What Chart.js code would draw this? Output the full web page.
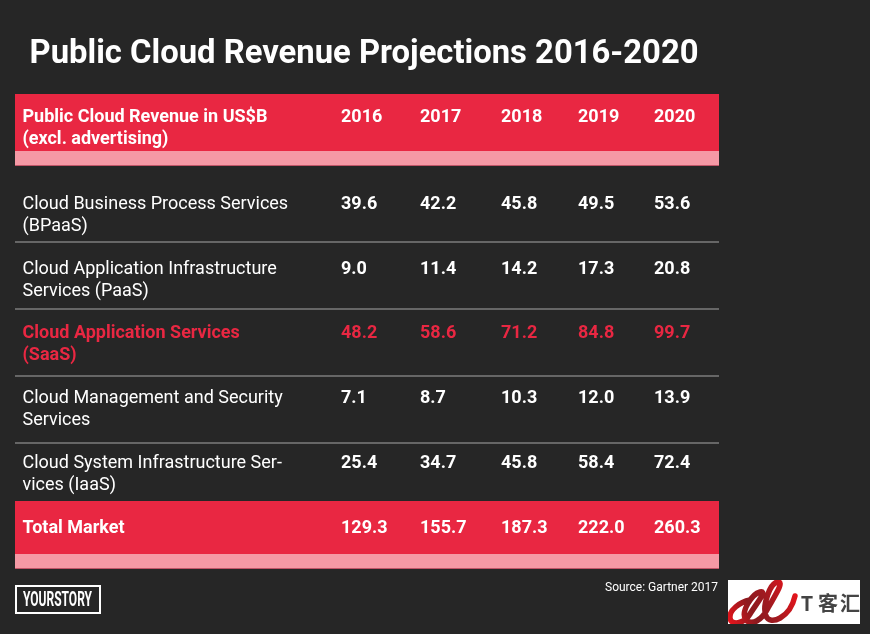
<!DOCTYPE html>
<html lang="en">
<head>
    <meta charset="UTF-8">
    <title>Public Cloud Revenue Projections 2016-2020</title>
    <script src="https://cdn.jsdelivr.net/npm/chart.js"></script>
    <style>
        html, body { margin: 0; padding: 0; background: #262626; }
        canvas { display: block; }
    </style>
</head>
<body>
    <canvas id="tabla" width="870" height="634"></canvas>

    <script>
        // Table content
        const chartTitle = "Public Cloud Revenue Projections 2016-2020";
        const headerLabel = ["Public Cloud Revenue in US$B", "(excl. advertising)"];
        const years = ["2016", "2017", "2018", "2019", "2020"];
        const rowLabels = [
            ["Cloud Business Process Services", "(BPaaS)"],
            ["Cloud Application Infrastructure", "Services (PaaS)"],
            ["Cloud Application Services", "(SaaS)"],
            ["Cloud Management and Security", "Services"],
            ["Cloud System Infrastructure Ser-", "vices (IaaS)"],
            ["Total Market"]
        ];
        const bpaas = [39.6, 42.2, 45.8, 49.5, 53.6];
        const paas = [9.0, 11.4, 14.2, 17.3, 20.8];
        const saas = [48.2, 58.6, 71.2, 84.8, 99.7];
        const management = [7.1, 8.7, 10.3, 12.0, 13.9];
        const iaas = [25.4, 34.7, 45.8, 58.4, 72.4];
        const totalMarket = [129.3, 155.7, 187.3, 222.0, 260.3];
        const sourceNote = "Source: Gartner 2017";
        const brandName = "YOURSTORY";
        const logoGlyphs = ["T", "客", "汇"];

        // Table layout, in canvas units
        const columnX = [341, 420, 501, 578, 654];
        const rowY = [204, 269, 333, 398, 463, 528];
        const headerY = 117;
        const lineGap = 22;
        const labelX = 22.5;
        const ruleY = [242, 309, 376, 443];
        const bands = [
            { top: 94, bottom: 151, color: "#e92742", edge: "#e92742" },
            { top: 151, bottom: 166, color: "#f599a5", edge: "#c05568" },
            { top: 501, bottom: 554, color: "#e92742", edge: "#e92742" },
            { top: 554, bottom: 569, color: "#f599a5", edge: "#c05568" }
        ];

        const red = "#e92742";
        const font = (size, weight) => weight + " " + size + "px Roboto";
        const allRows = [bpaas, paas, saas, management, iaas, totalMarket];

        // Bands behind the rows
        const bandsPlugin = {
            id: "bands",
            beforeDatasetsDraw(chart) {
                const { ctx, chartArea, scales } = chart;
                const width = chartArea.right - chartArea.left;
                bands.forEach(function (b) {
                    const top = scales.y.getPixelForValue(b.top);
                    const bottom = scales.y.getPixelForValue(b.bottom);
                    ctx.fillStyle = b.color;
                    ctx.fillRect(chartArea.left, top, width, bottom - top);
                    ctx.fillStyle = b.edge;
                    ctx.fillRect(chartArea.left, bottom - 1, width, 1);
                });
            }
        };

        // Logo bottom right
        function drawLogo(ctx) {
            ctx.save();
            ctx.fillStyle = "#ffffff";
            ctx.fillRect(728, 580, 132, 44);
            ctx.beginPath();
            ctx.rect(728, 580, 132, 44);
            ctx.clip();
            const grad = ctx.createLinearGradient(728, 622, 796, 590);
            grad.addColorStop(0, "#e8141c");
            grad.addColorStop(0.35, "#8c1a1f");
            grad.addColorStop(0.6, "#a01a20");
            grad.addColorStop(1, "#e8141c");
            ctx.strokeStyle = grad;
            ctx.lineWidth = 5.5;
            ctx.lineCap = "round";
            ctx.beginPath();
            ctx.moveTo(750, 600);
            ctx.bezierCurveTo(740, 602, 729, 610, 730, 618);
            ctx.bezierCurveTo(731, 626, 744, 624, 750, 614);
            ctx.bezierCurveTo(756, 604, 768, 590, 760, 592);
            ctx.bezierCurveTo(752, 594, 740, 612, 746, 620);
            ctx.bezierCurveTo(752, 626, 762, 620, 768, 608);
            ctx.bezierCurveTo(776, 594, 784, 582, 778, 582);
            ctx.bezierCurveTo(770, 582, 762, 606, 766, 616);
            ctx.bezierCurveTo(770, 626, 790, 618, 795, 596);
            ctx.stroke();
            ctx.fillStyle = "#444444";
            ctx.textAlign = "center";
            ctx.textBaseline = "middle";
            ctx.font = "bold 20px 'Noto Sans CJK SC'";
            [807, 828, 850].forEach(function (x, i) {
                ctx.fillText(logoGlyphs[i], x, 603);
            });
            ctx.restore();
        }

        // Text of the table, title and footer
        const textPlugin = {
            id: "tableText",
            afterDatasetsDraw(chart) {
                const { ctx } = chart;
                ctx.save();
                ctx.textAlign = "left";
                ctx.textBaseline = "middle";

                ctx.fillStyle = "#ffffff";
                ctx.font = font(32.8, "bold");
                ctx.fillText(chartTitle, 29.5, 55);

                ctx.font = font(18, "bold");
                headerLabel.forEach(function (line, i) {
                    ctx.fillText(line, labelX, headerY + i * lineGap);
                });
                years.forEach(function (year, j) {
                    ctx.fillText(year, columnX[j], headerY);
                });

                chart.data.datasets.forEach(function (dataset, i) {
                    const isTotal = i === allRows.length - 1;
                    ctx.fillStyle = i === 2 ? red : "#ffffff";
                    ctx.font = font(18, i === 2 || isTotal ? "bold" : "normal");
                    rowLabels[i].forEach(function (line, k) {
                        ctx.fillText(line, labelX, rowY[i] + k * lineGap);
                    });
                    ctx.font = font(18, "bold");
                    chart.getDatasetMeta(i).data.forEach(function (point, j) {
                        ctx.fillText(dataset.data[j].value.toFixed(1), point.x, point.y);
                    });
                });

                ctx.fillStyle = "#ffffff";
                ctx.font = font(12, "normal");
                ctx.fillText(sourceNote, 605, 588);

                ctx.strokeStyle = "#ffffff";
                ctx.lineWidth = 2;
                ctx.strokeRect(16, 586, 84, 27);
                ctx.font = font(21, "bold");
                ctx.fillText(brandName, 23, 601, 69);

                drawLogo(ctx);
                ctx.restore();
            }
        };

        new Chart(document.getElementById("tabla"), {
            type: "scatter",
            data: {
                datasets: allRows.map(function (values, i) {
                    return {
                        label: rowLabels[i].join(" "),
                        data: values.map(function (value, j) {
                            return { x: columnX[j], y: rowY[i], value: value };
                        }),
                        pointRadius: 0
                    };
                })
            },
            options: {
                responsive: false,
                devicePixelRatio: 1,
                animation: false,
                layout: { padding: { left: 15, right: 151, top: 94, bottom: 65 } },
                plugins: { legend: { display: false }, tooltip: { enabled: false } },
                scales: {
                    x: { type: "linear", min: 15, max: 719, display: false },
                    y: {
                        type: "linear",
                        min: 94,
                        max: 569,
                        reverse: true,
                        afterBuildTicks(axis) {
                            axis.ticks = ruleY.map(function (v) { return { value: v }; });
                        },
                        ticks: { display: false },
                        border: { display: false },
                        grid: { color: "#666666", lineWidth: 2, drawTicks: false }
                    }
                }
            },
            plugins: [bandsPlugin, textPlugin]
        });
    </script>
</body>
</html>
